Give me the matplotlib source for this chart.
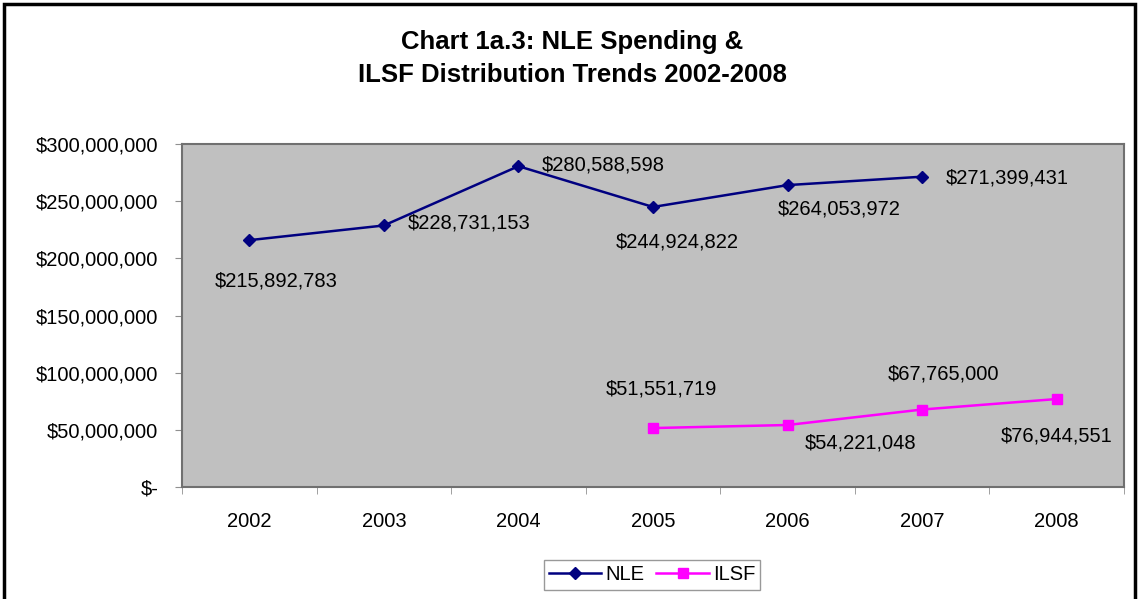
import matplotlib.pyplot as plt
from matplotlib.patches import Rectangle
from matplotlib.ticker import FuncFormatter

plt.rcParams['font.family'] = ['Liberation Sans', 'DejaVu Sans']

years = ['2002', '2003', '2004', '2005', '2006', '2007', '2008']
nle_values = [215892783, 228731153, 280588598, 244924822, 264053972, 271399431]
ilsf_values = [51551719, 54221048, 67765000, 76944551]
ilsf_start = 3  # ILSF starts in 2005

# label offsets in pixels (dx, dy) relative to each point
nle_offsets = [(27, -41), (85, 2), (85, 1), (24, -35), (52, -24), (85, -1)]
ilsf_offsets = [(8, 39), (73, -18), (21, 36), (0, -37)]

fig = plt.figure(figsize=(11.39, 5.99), dpi=100)
fig.patches.append(Rectangle((4 / 1139, -0.1), 1131 / 1139, 1.1 - 4 / 599,
                             transform=fig.transFigure, fill=False,
                             edgecolor='black', linewidth=2.5))

ax = fig.add_axes([182 / 1139, 112 / 599, 942 / 1139, 343 / 599])
ax.set_facecolor('#C0C0C0')
for s in ax.spines.values():
    s.set_color('#707070')
    s.set_linewidth(1.5)

x_nle = list(range(len(nle_values)))
x_ilsf = list(range(ilsf_start, ilsf_start + len(ilsf_values)))

ax.plot(x_nle, nle_values, color='#000080', marker='D', markersize=6,
        linewidth=1.8, label='NLE')
ax.plot(x_ilsf, ilsf_values, color='#FF00FF', marker='s', markersize=7,
        linewidth=1.8, label='ILSF')

for x, v, off in zip(x_nle, nle_values, nle_offsets):
    ax.annotate(f'${v:,}', (x, v), xytext=off, textcoords='offset pixels',
                ha='center', va='center', fontsize=14.5)
for x, v, off in zip(x_ilsf, ilsf_values, ilsf_offsets):
    ax.annotate(f'${v:,}', (x, v), xytext=off, textcoords='offset pixels',
                ha='center', va='center', fontsize=14.5)

ax.set_xlim(-0.5, len(years) - 0.5)
ax.set_ylim(0, 300000000)
ax.set_yticks(range(0, 300000001, 50000000))
ax.yaxis.set_major_formatter(FuncFormatter(
    lambda v, p: '$-' if v == 0 else f'${int(v):,}'))
ax.tick_params(axis='y', length=5, color='#909090', pad=12, labelsize=14.5)

ax.set_xticks(range(len(years)))
ax.set_xticklabels(years)
ax.set_xticks([i - 0.5 for i in range(len(years) + 1)], minor=True)
ax.tick_params(axis='x', which='major', length=0, pad=18, labelsize=14.5)
ax.tick_params(axis='x', which='minor', length=5, color='#909090')

fig.text(572 / 1139, 1 - 42 / 599, 'Chart 1a.3: NLE Spending &', ha='center',
         va='center', fontsize=18.5, fontweight='bold')
fig.text(572 / 1139, 1 - 75 / 599, 'ILSF Distribution Trends 2002-2008', ha='center',
         va='center', fontsize=18.5, fontweight='bold')

leg = fig.legend(loc='center', bbox_to_anchor=(652 / 1139, 24 / 599), ncol=2,
                 fontsize=14.5, frameon=True, fancybox=False, edgecolor='#808080',
                 handlelength=2.6, columnspacing=0.6, handletextpad=0.2,
                 borderpad=0.25)
leg.get_frame().set_linewidth(1.0)

fig.savefig('out.png', dpi=100)
